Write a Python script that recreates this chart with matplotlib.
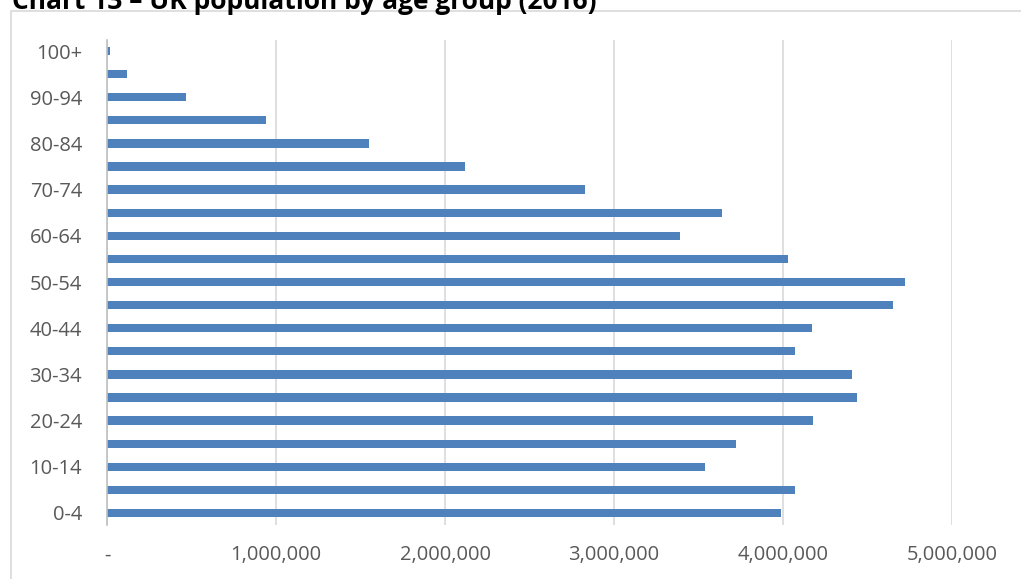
import matplotlib.pyplot as plt
from matplotlib.patches import Rectangle
from matplotlib.ticker import FuncFormatter

# age groups, youngest first (bottom of the chart)
age_groups = ["0-4", "5-9", "10-14", "15-19", "20-24", "25-29", "30-34",
              "35-39", "40-44", "45-49", "50-54", "55-59", "60-64", "65-69",
              "70-74", "75-79", "80-84", "85-89", "90-94", "95-99", "100+"]

population = [3990000, 4070000, 3540000, 3720000, 4180000, 4440000, 4410000,
              4070000, 4170000, 4650000, 4720000, 4030000, 3390000, 3640000,
              2830000, 2120000, 1550000, 940000, 470000, 120000, 15000]

x_ticks = [0, 1000000, 2000000, 3000000, 4000000, 5000000]

title = "Chart 13 \u2013 UK population by age group (2016)"

plt.rcParams['font.family'] = ['Open Sans', 'DejaVu Sans']

W, H = 1021, 579
fig = plt.figure(figsize=(W / 100, H / 100), dpi=100)

# chart frame (only left and top edges are inside the picture)
fig.patches.append(Rectangle((11 / W, -0.1), 1.2, 1.1 - 11.5 / H,
                             transform=fig.transFigure, fill=False,
                             edgecolor='#D9D9D9', linewidth=1.2))

fig.text(12 / W, 1 - 9 / H, title, fontsize=19, fontweight='bold',
         color='black', va='baseline', ha='left')

ax = fig.add_axes([107 / W, 1 - 524.5 / H, (952 - 107) / W, (524.5 - 39.5) / H])

pos = list(range(len(age_groups)))
ax.barh(pos, population, height=0.36, color='#4F81BD', zorder=3)

ax.set_xlim(0, 5000000)
ax.set_ylim(-0.5, len(age_groups) - 0.5)
ax.set_xticks(x_ticks)
ax.xaxis.set_major_formatter(FuncFormatter(lambda v, p: '-' if v == 0 else f'{int(v):,}'))
ax.set_yticks(pos)
ax.set_yticklabels([a if i % 2 == 0 else '' for i, a in enumerate(age_groups)])

ax.grid(axis='x', color='#D9D9D9', linewidth=1.2, zorder=0)
for s in ['top', 'right', 'bottom']:
    ax.spines[s].set_visible(False)
ax.spines['left'].set_color('#BFBFBF')
ax.spines['left'].set_linewidth(1.2)
ax.spines['left'].set_zorder(4)
ax.tick_params(length=0, labelsize=14.5, labelcolor='#595959')
ax.tick_params(axis='x', pad=15)
ax.tick_params(axis='y', pad=18)

fig.savefig('out.png', dpi=100)
